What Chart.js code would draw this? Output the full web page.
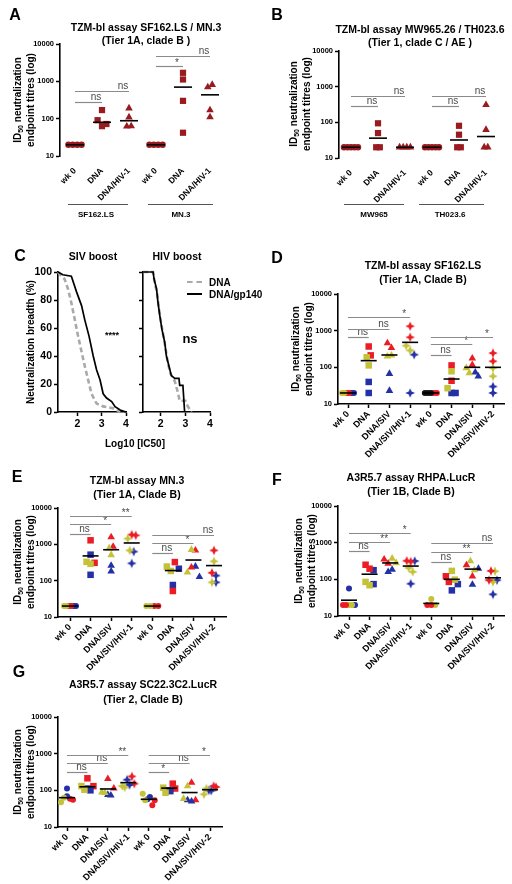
<!DOCTYPE html>
<html><head><meta charset="utf-8">
<script src="https://cdn.jsdelivr.net/npm/chart.js@4.4.1/dist/chart.umd.min.js"></script>
<style>
html,body{margin:0;padding:0;background:#fff;}
#wrap{position:relative;width:512px;height:884px;overflow:hidden;font-family:"Liberation Sans",Arial,sans-serif;}
canvas{position:absolute;left:0;top:0;}
.t{position:absolute;white-space:nowrap;color:#000;font-weight:bold;}
.t sub{font-size:0.7em;line-height:0;vertical-align:-0.3em;}
.ln{position:absolute;}
</style></head><body><div id="wrap"></div>
<script>
// ================= DATA =================
const catsAB = ['wk 0','DNA','DNA/HIV-1','wk 0','DNA','DNA/HIV-1'];
const catsDG = ['wk 0','DNA','DNA/SIV','DNA/SIV/HIV-1','wk 0','DNA','DNA/SIV','DNA/SIV/HIV-2'];
const logTicks = [10,100,1000,10000];

// Panel A (SF162.LS / MN.3)
const aValues = [[20,20,20,20],[91,170,63,72],[62,190,109,63],[20,20,20,20],[1120,300,42,1690],[700,170,110,810]];
const aMeans  = [20,80,88,20,700,435];
const aSig    = [[0,1,277,'ns'],[0,2,537,'ns'],[3,4,2540,'*'],[3,5,4750,'ns']];

// Panel B (MW965 / TH023.6)
const bValues = [[20,20,20,20,20],[20,94,50,20],[20,20,20,20],[20,20,20,20,20],[20,80,45,20],[20,310,62,20]];
const bMeans  = [20,36,20,20,32,40];
const bSig    = [[0,1,287,'ns'],[0,2,545,'ns'],[3,4,287,'ns'],[3,5,545,'ns']];

// Panel C (breadth curves)
const cSivDnaX = [1.2,1.34,1.47,1.61,1.75,1.89,2.03,2.17,2.30,2.44,2.58,2.79,3.06,3.48,3.76];
const cSivDnaY = [100,97,95,88,78,66,54,43,33,23,13,6,4,2.6,0];
const cSivGpX  = [1.2,1.24,1.40,1.75,1.96,2.17,2.30,2.48,2.65,2.79,2.93,3.06,3.20,3.41,3.55,3.76,4.0];
const cSivGpY  = [100,100,98,97,86,76,66,54,40,30,23,13,10,7.5,3.8,1.4,0];
const cHivDnaX = [1.28,1.69,1.75,1.85,1.92,2.0,2.08,2.18,2.27,2.38,2.50,2.57,2.68,2.77,3.0,3.1,3.25];
const cHivDnaY = [100,100,93,85,75,65,57,47,37,28,24,22,15,8,8,4,0];
const cHivGpX  = [1.28,1.69,1.73,1.83,1.89,1.96,2.05,2.16,2.23,2.33,2.43,2.57,2.74,2.77,2.90,2.97];
const cHivGpY  = [100,100,95,88,78,69,59,50,40,33,26,24,24,19,19,0];
const cTicksX  = [2,3,4];
const cTicksY  = [0,20,40,60,80,100];

// Panel D (TZM-bl SF162.LS)
const dRed    = [[20,20],[212,370],[460,340],[1320,660],[20,20],[113,43],[176,117],[245,146]];
const dYellow = [[20,20],[188,113],[200,212],[390,290],[],[78,27],[96,70],[96,57]];
const dBlue   = [[20,20],[40,20],[67,23],[222,20],[],[20,20],[73,57],[30,20]];
const dBlack  = [[],[],[],[],[20,20,20],[],[],[]];
const dMeans  = [20,152,217,480,20,48,100,100];
const dSig    = [[0,1,660,'ns'],[0,2,1120,'ns'],[0,3,2350,'*'],[4,5,222,'ns'],[4,6,445,'*'],[4,7,670,'*']];

// Panel E (TZM-bl MN.3)
const eRed    = [[20,20],[1290,310],[1580,870],[1850,1770],[20,20],[325,52],[680,233],[680,165]];
const eYellow = [[20,20],[330,290],[780,510],[1440,680],[20,20],[245,185],[710,170],[340,90]];
const eBlue   = [[20,20],[520,145],[260,180],[630,300],[],[213,76],[246,127],[138,90]];
const eMeans  = [20,480,710,1090,20,190,370,260];
const eSig    = [[0,1,1900,'ns'],[0,2,3630,'*'],[0,3,6170,'**'],[4,5,580,'ns'],[4,6,1100,'*'],[4,7,1850,'ns']];

// Panel F (A3R5.7 RHPA.LucR)
const fRed    = [[20,20],[250,195],[350,270],[320,305],[20,20],[121,85],[245,121],[170,95]];
const fYellow = [[20,20],[85,69],[370,280],[205,160],[29,20],[170,98],[315,178],[166,85]];
const fBlue   = [[56,20],[178,74],[160,185],[315,76],[],[74,50],[197,72],[95,39]];
const fMeans  = [27,138,280,230,22,100,190,110];
const fSig    = [[0,1,600,'ns'],[0,2,1050,'**'],[0,3,1870,'*'],[4,5,300,'ns'],[4,6,560,'**'],[4,7,1010,'ns']];

// Panel G (A3R5.7 SC22.3C2.LucR)
const gRed    = [[59,55],[213,130],[205,113],[240,152],[39,54],[152,112],[162,54],[131,123]];
const gYellow = [[47,63],[131,104],[89,85],[131,120],[81,54],[118,86],[131,59],[78,112]];
const gBlue   = [[112,69],[112,100],[76,73],[195,140],[57,66],[100,95],[54,50],[100,98]];
const gMeans  = [63,125,109,162,57,115,87,104];
const gSig    = [[0,1,317,'ns'],[0,2,560,'ns'],[0,3,935,'**'],[4,5,317,'*'],[4,6,560,'ns'],[4,7,935,'*']];

// ================= STYLE / LAYOUT =================
const COL = {dark:'#9a1b1f', red:'#ec1c24', yellow:'#c4c238', blue:'#2330a6', black:'#111111'};
const FONT = '"Liberation Sans", Arial, sans-serif';
Chart.defaults.font.family = FONT;
const wrap = document.getElementById('wrap');

function newCanvas(){
  const c=document.createElement('canvas'); c.width=512; c.height=884;
  c.style.width='512px'; c.style.height='884px'; wrap.appendChild(c); return c;
}
const starCache={};
function star4(color){
  if(starCache[color]) return starCache[color];
  const R=4.8, r=2.0, s=12;
  const c=document.createElement('canvas'); c.width=c.height=s;
  const g=c.getContext('2d'); g.translate(s/2,s/2); g.beginPath();
  for(let i=0;i<8;i++){const a=i*Math.PI/4-Math.PI/2; const rr=i%2?r:R; g.lineTo(rr*Math.cos(a),rr*Math.sin(a));}
  g.closePath(); g.fillStyle=color; g.fill();
  starCache[color]=c; return c;
}
function styleOf(shape,color){ return shape==='star4'?star4(color):shape; }
function radOf(shape,big){ return {circle:big?3.2:3,rect:big?4.4:4.6,triangle:big?4.4:4.4,star4:5}[shape]; }

function buildScatter(p){
  const n=p.cats.length, A=p.area;
  const step=(p.c1-p.c0)/(n-1);
  const xmin=-(p.c0-A.l)/step, xmax=(n-1)+(A.r-p.c1)/step;
  const decPx=(A.b-A.t)/3;
  const perCat=Array.from({length:n},()=>[]);
  p.series.forEach((s,si)=>s.values.forEach((arr,ci)=>arr.forEach(v=>perCat[ci].push({si,v}))));
  const placed=p.series.map(()=>[]);
  perCat.forEach((pts,ci)=>{
    const sorted=pts.map((q,k)=>({...q,k,ly:Math.log10(q.v)*decPx})).sort((a,b)=>a.ly-b.ly||a.k-b.k);
    const clusters=[]; let cur=[];
    sorted.forEach(q=>{ if(cur.length && q.ly-cur[cur.length-1].ly>5.5){clusters.push(cur);cur=[];} cur.push(q); });
    if(cur.length) clusters.push(cur);
    clusters.forEach(cl=>{
      cl.sort((a,b)=>a.k-b.k);
      const m=cl.length; const sp=m>1?Math.min(p.sp,p.w/(m-1)):0;
      cl.forEach((q,j)=>{ const off=(j-(m-1)/2)*sp; placed[q.si].push({x:ci+off/step,y:q.v,cat:ci}); });
    });
  });
  const yW=30, xH=60;
  const extras={id:'extras'+Math.random(),
    afterDatasetsDraw(chart){
      const ctx=chart.ctx, xs=chart.scales.x, ys=chart.scales.y;
      ctx.save();
      ctx.strokeStyle='#8a8a8a'; ctx.lineWidth=1.2; ctx.fillStyle='#4a4a4a';
      ctx.font='10px '+FONT; ctx.textAlign='center'; ctx.textBaseline='bottom';
      p.sig.forEach(([a,b,v,lab])=>{
        const yy=Math.round(ys.getPixelForValue(v))+0.5, x1=xs.getPixelForValue(a), x2=xs.getPixelForValue(b);
        ctx.beginPath(); ctx.moveTo(x1,yy); ctx.lineTo(x2,yy); ctx.stroke();
        ctx.fillText(lab,x2-6,yy+(lab.includes('*')?2:0));
      });
      ctx.strokeStyle='#000'; ctx.lineWidth=1.6;
      p.means.forEach((v,i)=>{
        if(v==null) return;
        const yy=ys.getPixelForValue(v), xx=xs.getPixelForValue(i);
        ctx.beginPath(); ctx.moveTo(xx-p.mw,yy); ctx.lineTo(xx+p.mw,yy); ctx.stroke();
      });
      ctx.restore();
    }};
  new Chart(newCanvas(),{
    type:'scatter',
    data:{datasets:p.series.map((s,si)=>({
      data:placed[si],
      backgroundColor:COL[s.color], borderColor:COL[s.color], borderWidth:0,
      pointStyle:ctx=>ctx.raw?styleOf(p.shapes[ctx.raw.cat],COL[s.color]):'circle',
      pointRadius:ctx=>ctx.raw?radOf(p.shapes[ctx.raw.cat],p.big):3,
      pointBorderWidth:0, clip:false
    }))},
    options:{
      responsive:false, animation:false, devicePixelRatio:1, events:[],
      layout:{padding:{left:A.l-yW, top:A.t, right:512-A.r, bottom:884-A.b-xH}},
      plugins:{legend:{display:false}, tooltip:{enabled:false}},
      scales:{
        x:{type:'linear',min:xmin,max:xmax,
          afterBuildTicks:s=>{s.ticks=p.cats.map((_,i)=>({value:i}));},
          afterFit:s=>{s.height=xH;s.paddingLeft=0;s.paddingRight=0;},
          ticks:{autoSkip:false,minRotation:45,maxRotation:45,padding:p.xLine?1:6,color:'#000',
            font:{size:p.xfs,weight:'bold'},callback:v=>p.cats[v]},
          grid:{display:p.xLine,drawOnChartArea:false,drawTicks:true,tickLength:4,tickWidth:1.5,tickColor:'#000'},
          border:{display:p.xLine,color:'#000',width:1.6}},
        y:{type:'logarithmic',min:10,max:10000,
          afterBuildTicks:s=>{s.ticks=logTicks.map(v=>({value:v,major:true}));},
          afterFit:s=>{s.width=yW;s.paddingTop=0;s.paddingBottom=0;},
          ticks:{padding:2,color:'#000',font:{size:7.5,weight:'bold'},callback:v=>String(v)},
          grid:{display:true,drawOnChartArea:false,drawTicks:true,tickLength:4,tickWidth:1.5,tickColor:'#000'},
          border:{display:true,color:'#000',width:1.6}}
      }
    },
    plugins:[extras]
  });
}

function buildCurve(c){
  const zip=(xs,ys)=>xs.map((x,i)=>({x,y:ys[i]}));
  const A=c.area, yW=c.labels?30:6, xH=30;
  new Chart(newCanvas(),{
    type:'scatter',
    data:{datasets:[
      {data:zip(c.gpX,c.gpY),showLine:true,borderColor:'#000',borderWidth:1.7,pointRadius:0,clip:false},
      {data:zip(c.dnaX,c.dnaY),showLine:true,borderColor:'#a9a9a9',borderWidth:2.6,borderDash:[5,3],pointRadius:0,clip:false}
    ]},
    options:{
      responsive:false, animation:false, devicePixelRatio:1, events:[],
      layout:{padding:{left:A.l-yW, top:A.t, right:512-A.r, bottom:884-A.b-xH}},
      plugins:{legend:{display:false}, tooltip:{enabled:false}},
      scales:{
        x:{type:'linear',min:c.xmin,max:4,
          afterBuildTicks:s=>{s.ticks=cTicksX.map(v=>({value:v}));},
          afterFit:s=>{s.height=xH;s.paddingLeft=0;s.paddingRight=0;},
          ticks:{padding:2,color:'#000',font:{size:10.5,weight:'bold'}},
          grid:{drawOnChartArea:false,drawTicks:true,tickLength:4,tickWidth:1.5,tickColor:'#000'},
          border:{color:'#000',width:1.6}},
        y:{type:'linear',min:0,max:100,
          afterBuildTicks:s=>{s.ticks=cTicksY.map(v=>({value:v}));},
          afterFit:s=>{s.width=yW;s.paddingTop=0;s.paddingBottom=0;},
          ticks:{padding:2,color:'#000',font:{size:10.5,weight:'bold'},callback:v=>c.labels?String(v):''},
          grid:{drawOnChartArea:false,drawTicks:true,tickLength:4,tickWidth:1.5,tickColor:'#000'},
          border:{color:'#000',width:1.6}}
      }
    }
  });
}

const shapesAB=['circle','rect','triangle','circle','rect','triangle'];
const shapesDG=['circle','rect','triangle','star4','circle','rect','triangle','star4'];

buildScatter({cats:catsAB,shapes:shapesAB,series:[{color:'dark',values:aValues}],means:aMeans,sig:aSig,
  area:{l:60,r:222,t:44,b:156},c0:75,c1:210,xLine:false,xfs:8.5,mw:9,sp:4.4,w:14,big:true});
buildScatter({cats:catsAB,shapes:shapesAB,series:[{color:'dark',values:bValues}],means:bMeans,sig:bSig,
  area:{l:339,r:500,t:51,b:158},c0:351,c1:486,xLine:false,xfs:8.5,mw:9,sp:3.6,w:14,big:true});
buildScatter({cats:catsDG,shapes:shapesDG,series:[{color:'black',values:dBlack},{color:'yellow',values:dYellow},{color:'red',values:dRed},{color:'blue',values:dBlue}],
  means:dMeans,sig:dSig,area:{l:338,r:504,t:294,b:404},c0:348,c1:493,xLine:true,xfs:9,mw:8,sp:4,w:12});
buildScatter({cats:catsDG,shapes:shapesDG,series:[{color:'yellow',values:eYellow},{color:'red',values:eRed},{color:'blue',values:eBlue}],
  means:eMeans,sig:eSig,area:{l:58,r:226,t:508,b:617},c0:70,c1:214,xLine:true,xfs:9,mw:8,sp:4,w:12});
buildScatter({cats:catsDG,shapes:shapesDG,series:[{color:'red',values:fRed},{color:'yellow',values:fYellow},{color:'blue',values:fBlue}],
  means:fMeans,sig:fSig,area:{l:338,r:504,t:506,b:616},c0:349,c1:493,xLine:true,xfs:9,mw:8,sp:4,w:12});
buildScatter({cats:catsDG,shapes:shapesDG,series:[{color:'yellow',values:gYellow},{color:'blue',values:gBlue},{color:'red',values:gRed}],
  means:gMeans,sig:gSig,area:{l:58,r:222,t:717,b:827},c0:67,c1:210,xLine:true,xfs:9,mw:8,sp:4,w:12});

buildCurve({dnaX:cSivDnaX,dnaY:cSivDnaY,gpX:cSivGpX,gpY:cSivGpY,area:{l:58,r:126,t:272,b:412},xmin:1.2,labels:true});
buildCurve({dnaX:cHivDnaX,dnaY:cHivDnaY,gpX:cHivGpX,gpY:cHivGpY,area:{l:143,r:210,t:272,b:412},xmin:1.28,labels:false});

// ================= TEXT =================
function txt(html,cx,cy,size,o={}){
  const d=document.createElement('div'); d.className='t'; d.innerHTML=html;
  d.style.fontSize=size+'px'; d.style.lineHeight=(o.lh||Math.round(size*1.25))+'px';
  d.style.left=cx+'px'; d.style.top=cy+'px'; d.style.textAlign='center';
  d.style.transform=(o.left?'translate(0,-50%)':'translate(-50%,-50%)')+(o.rot?' rotate(-90deg)':'');
  if(o.normal) d.style.fontWeight='normal';
  if(o.color) d.style.color=o.color;
  wrap.appendChild(d);
}
function hline(x1,x2,y,h,css){
  const d=document.createElement('div'); d.className='ln';
  d.style.left=x1+'px'; d.style.top=(y-h/2)+'px'; d.style.width=(x2-x1)+'px'; d.style.height='0px';
  d.style.borderTop=h+'px '+css; wrap.appendChild(d);
}
// panel letters
[['A',15,15],['B',277,15],['C',20,256],['D',277,258],['E',17,477],['F',277,480],['G',19,672]]
  .forEach(([l,x,y])=>txt(l,x,y,16));
// titles
txt('TZM-bl assay SF162.LS / MN.3<br>(Tier 1A, clade B )',146,34,10.5,{lh:13});
txt('TZM-bl assay MW965.26 / TH023.6<br>(Tier 1, clade C / AE )',420,36,10.5,{lh:13});
txt('SIV boost',93,256,10.5);
txt('HIV boost',177,256,10.5);
txt('TZM-bl assay SF162.LS<br>(Tier 1A, Clade B)',423,272,10.5,{lh:14});
txt('TZM-bl assay MN.3<br>(Tier 1A, Clade B)',137,487,10.5,{lh:13.5});
txt('A3R5.7 assay RHPA.LucR<br>(Tier 1B, Clade B)',411,484,10.5,{lh:13.5});
txt('A3R5.7 assay SC22.3C2.LucR<br>(Tier 2, Clade B)',143,691,10.5,{lh:14.5});
// y axis titles
const yt='ID<sub>50</sub> neutralization<br>endpoint titres (log)';
[[24,100],[300,104],[302,349],[24,562],[305,561],[24,772]].forEach(([x,y])=>txt(yt,x,y,10,{rot:true,lh:13}));
txt('Neutralization breadth (%)',30,342,10,{rot:true});
txt('Log10 [IC50]',135,443,10);
// group labels A/B
hline(68,128,205,1.5,'solid #555'); hline(148,213,205,1.5,'solid #555');
hline(344,404,205,1.5,'solid #555'); hline(419,484,205,1.5,'solid #555');
txt('SF162.LS',96,215,8); txt('MN.3',181,215,8); txt('MW965',374,215,8); txt('TH023.6',450,215,8);
// C legend and stats
hline(187,202,282,2.5,'dashed #aaa'); hline(187,202,294,2.5,'solid #000');
txt('DNA',209,282,10,{left:true}); txt('DNA/gp140',209,294,10,{left:true});
txt('****',112,335,9);
txt('ns',190,339,13);
</script></body></html>
